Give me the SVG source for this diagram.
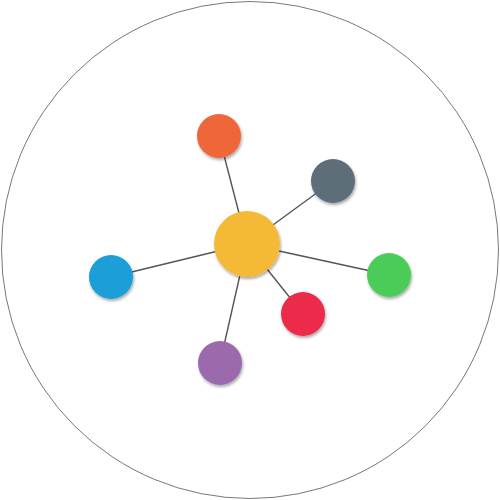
<svg xmlns="http://www.w3.org/2000/svg" width="500" height="500" viewBox="0 0 500 500">
<defs>
<style>
.n{filter:url(#sh);}
.e line{stroke:#555;stroke-width:1.4;}
</style>
<filter id="sh" x="-30%" y="-30%" width="170%" height="170%">
<feDropShadow dx="1" dy="2" stdDeviation="1.5" flood-color="#000" flood-opacity="0.35"/>
</filter>
</defs>
<rect width="500" height="500" fill="#fff"/>
<circle cx="250" cy="250" r="248.5" fill="none" stroke="#555" stroke-width="0.8"/>
<g class="e">
<line x1="247" y1="244" x2="219" y2="136"/>
<line x1="247" y1="244" x2="333" y2="181"/>
<line x1="247" y1="244" x2="111" y2="277"/>
<line x1="247" y1="244" x2="389" y2="275"/>
<line x1="247" y1="244" x2="303" y2="314"/>
<line x1="247" y1="244" x2="220" y2="363"/>
</g>
<g id="center" class="n"><circle cx="247" cy="244" r="33" fill="#F5B937"/></g>
<g id="orange" class="n"><circle cx="219" cy="136" r="22" fill="#EF6638"/></g>
<g id="gray" class="n"><circle cx="333" cy="181" r="22" fill="#5D6E79"/></g>
<g id="blue" class="n"><circle cx="111" cy="277" r="22" fill="#1B9FD9"/></g>
<g id="green" class="n"><circle cx="389" cy="275" r="22" fill="#4CCB58"/></g>
<g id="red" class="n"><circle cx="303" cy="314" r="22" fill="#EC2A4A"/></g>
<g id="purple" class="n"><circle cx="220" cy="363" r="22" fill="#9B6AAD"/></g>
</svg>
